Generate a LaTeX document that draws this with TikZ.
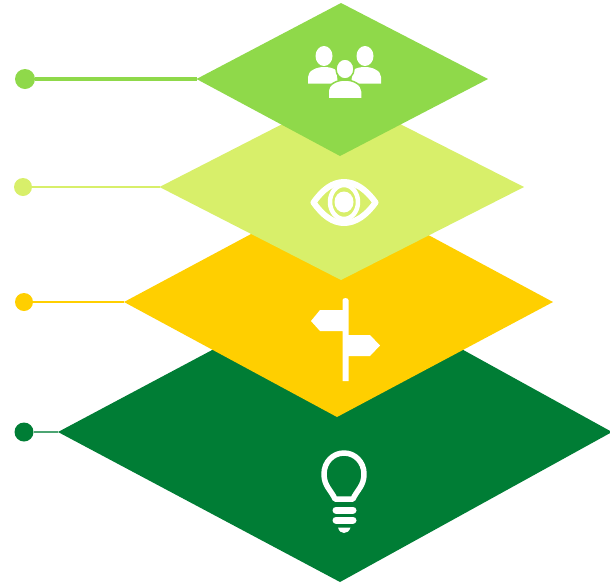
\documentclass[tikz,border=0pt]{standalone}
\definecolor{leaf}{HTML}{8FD94A}
\definecolor{lime}{HTML}{D8EF6A}
\definecolor{amber}{HTML}{FFCF00}
\definecolor{forest}{HTML}{007D35}
\tikzset{
    dot/.style={circle, inner sep=0pt, minimum size=#1},
    icon/.style={fill=white, draw=none},
    iconline/.style={draw=white, line cap=round, line join=round}
}

\begin{document}
\begin{tikzpicture}[x=1pt, y=-1pt]
    \useasboundingbox (0,0) rectangle (610,582);
    \clip (0,0) rectangle (610,582);

    % layer corners
    \coordinate (forestleft) at (58,432);
    \coordinate (amberleft) at (124,302);
    \coordinate (limeleft) at (159.5,187);
    \coordinate (leafleft) at (196.5,79);

    % layers
    \fill[forest] (forestleft) -- (340,282) -- (612,432) -- (340,582) -- cycle;
    \fill[amber] (amberleft) -- (339,187) -- (553,302) -- (337,417) -- cycle;
    \fill[lime] (limeleft) -- (341,94) -- (524,187) -- (341,280) -- cycle;
    \fill[leaf] (leafleft) -- (341,3) -- (488,79) -- (340,156) -- cycle;

    % dots
    \node[dot=20pt, fill=leaf] (leafdot) at (25,79) {};
    \node[dot=18pt, fill=lime] (limedot) at (23,187) {};
    \node[dot=18pt, fill=amber] (amberdot) at (24,302) {};
    \node[dot=19pt, fill=forest] (forestdot) at (24,432) {};

    % connectors
    \draw[leaf, line width=3.5pt] (leafdot) -- (leafleft);
    \draw[lime, line width=2pt] (limedot) -- (limeleft);
    \draw[amber, line width=2.5pt] (amberdot) -- (amberleft);
    \draw[forest!70, line width=2.5pt] (forestdot) -- (forestleft);

    % people
    \fill[icon] (324,56) ellipse (8.5 and 10);
    \fill[icon] (365,56) ellipse (8.5 and 10);
    \fill[icon] (308,83.5) -- (308,77) .. controls (308,71) and (316,67) .. (324,67) .. controls (329,67) and (333,68) .. (336,70) -- (338,83.5) -- cycle;
    \fill[icon] (381,83.5) -- (381,77) .. controls (381,71) and (373,67) .. (365,67) .. controls (360,67) and (356,68) .. (353,70) -- (351,83.5) -- cycle;
    \filldraw[icon, draw=leaf, line width=1.5pt] (345,69) ellipse (9 and 10);
    \filldraw[icon, draw=leaf, line width=1.5pt] (328,99) -- (328,91) .. controls (328,85) and (336,80) .. (345,80) .. controls (354,80) and (362,85) .. (362,91) -- (362,99) -- cycle;
    \fill[leaf] (326,98) rectangle (364,101);

    % eye
    \draw[iconline, line width=6pt] (313.5,202.5) .. controls (323,189) and (333,182) .. (344,182) .. controls (355,182) and (366,189) .. (375.5,202.5) .. controls (366,216) and (355,223) .. (344,223) .. controls (333,223) and (323,216) .. (313.5,202.5) -- cycle;
    \draw[iconline, line width=4.5pt] (344,202) ellipse (14 and 17);
    \fill[icon] (344,202) ellipse (9.5 and 10.5);

    % signpost
    \fill[icon] (342.5,381) -- (342.5,331) -- (320,331) -- (311,321) -- (320,310) -- (342.5,310) -- (342.5,300) .. controls (342.5,297.5) and (348.5,297.5) .. (348.5,300) -- (348.5,335) -- (370,335) -- (380,345.5) -- (370,356) -- (348.5,356) -- (348.5,381) -- cycle;

    % bulb
    \draw[iconline, line width=5.5pt] (335,499) .. controls (331,490) and (324,486) .. (324,474) .. controls (324,462) and (333,453) .. (344,453) .. controls (355,453) and (364,462) .. (364,474) .. controls (364,486) and (357,490) .. (353,499) -- cycle;
    \draw[iconline, line width=7pt] (336,510) -- (353,510);
    \draw[iconline, line width=7pt] (336,520) -- (353,520);
    \fill[icon] (338,527.5) -- (350.5,527.5) .. controls (349.5,531) and (347,533) .. (344,533) .. controls (341,533) and (339,531) .. (338,527.5) -- cycle;
\end{tikzpicture}
\end{document}
